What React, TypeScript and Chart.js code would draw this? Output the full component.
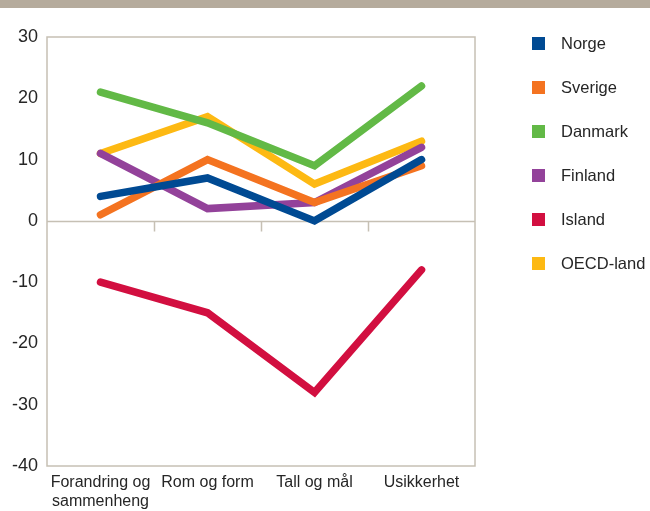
import React, { useEffect, useRef } from 'react';
import { Chart, registerables } from 'chart.js';

Chart.register(...registerables);

// Categories along the x axis (first one wraps onto two lines)
const categories: (string | string[])[] = [
  ['Forandring og', 'sammenheng'],
  'Rom og form',
  'Tall og mål',
  'Usikkerhet',
];

// Change per country and content area
const norge = [4, 7, 0, 10];
const sverige = [1, 10, 3, 9];
const danmark = [21, 16, 9, 22];
const finland = [11, 2, 3, 12];
const island = [-10, -15, -28, -8];
const oecd = [11, 17, 6, 13];

const seriesNames = ['Norge', 'Sverige', 'Danmark', 'Finland', 'Island', 'OECD-land'];
const seriesColors = ['#004a93', '#f47320', '#62b946', '#93429a', '#d20f40', '#fdb913'];
const seriesValues = [norge, sverige, danmark, finland, island, oecd];

const yMin = -40;
const yMax = 30;
const yStep = 10;

const FRAME_COLOR = '#c6c0b4';
const TEXT_COLOR = '#262626';
const FONT = '"Liberation Sans", Arial, sans-serif';

// Frame around the plot, zero line and its short category dividers
const framePlugin = {
  id: 'frame',
  beforeDatasetsDraw(chart: any) {
    const { ctx, chartArea, scales } = chart;
    const x = scales.x;
    const y = scales.y;
    const zeroY = Math.round(y.getPixelForValue(0)) + 0.5;
    ctx.save();
    ctx.strokeStyle = FRAME_COLOR;
    ctx.lineWidth = 1.5;
    ctx.strokeRect(chartArea.left, chartArea.top, chartArea.right - chartArea.left, chartArea.bottom - chartArea.top);
    ctx.beginPath();
    ctx.moveTo(chartArea.left, zeroY);
    ctx.lineTo(chartArea.right, zeroY);
    for (let i = 0; i < categories.length - 1; i++) {
      const bx = Math.round((x.getPixelForValue(i) + x.getPixelForValue(i + 1)) / 2) + 0.5;
      ctx.moveTo(bx, zeroY);
      ctx.lineTo(bx, zeroY + 10);
    }
    ctx.stroke();
    ctx.restore();
  },
};

export default function App() {
  const canvasRef = useRef<HTMLCanvasElement | null>(null);

  useEffect(() => {
    const canvas = canvasRef.current;
    if (!canvas) return;
    const chart = new Chart(canvas, {
      type: 'line',
      data: {
        labels: categories,
        datasets: seriesNames.map((name, i) => ({
          label: name,
          data: seriesValues[i],
          borderColor: seriesColors[i],
          backgroundColor: seriesColors[i],
          borderWidth: 7.5,
          borderCapStyle: 'round' as const,
          borderJoinStyle: 'miter' as const,
          pointRadius: 0,
          pointHoverRadius: 0,
          tension: 0,
          fill: false,
        })),
      },
      options: {
        responsive: false,
        animation: false,
        layout: { padding: { top: 37, right: 175, bottom: 0, left: 0 } },
        plugins: {
          legend: { display: false },
          tooltip: { enabled: false },
        },
        scales: {
          x: {
            type: 'category',
            offset: true,
            grid: { display: false, drawTicks: false },
            border: { display: false },
            ticks: {
              color: TEXT_COLOR,
              font: { family: FONT, size: 16, lineHeight: 1.2 },
              padding: 7,
              maxRotation: 0,
              minRotation: 0,
              autoSkip: false,
            },
            afterFit(scale: any) {
              scale.height = 45;
            },
          },
          y: {
            min: yMin,
            max: yMax,
            grid: { display: false, drawTicks: false },
            border: { display: false },
            ticks: {
              stepSize: yStep,
              color: TEXT_COLOR,
              font: { family: FONT, size: 18 },
              padding: 9,
            },
            afterFit(scale: any) {
              scale.width = 47;
            },
          },
        },
      },
      plugins: [framePlugin],
    });
    return () => chart.destroy();
  }, []);

  return (
    <div style={{ position: 'fixed', left: 0, top: 0, width: 650, height: 511, background: '#ffffff', overflow: 'hidden' }}>
      <div style={{ position: 'absolute', left: 0, top: 0, width: 650, height: 8, background: '#b5ab9c' }} />
      <canvas ref={canvasRef} width={650} height={511} style={{ position: 'absolute', left: 0, top: 0, width: 650, height: 511 }} />
      {seriesNames.map((name, i) => (
        <div key={name} style={{ position: 'absolute', left: 0, top: 43 + i * 44, width: 650, height: 0 }}>
          <div style={{ position: 'absolute', left: 532, top: -6.5, width: 13, height: 13, background: seriesColors[i] }} />
          <div style={{ position: 'absolute', left: 561, top: -10, lineHeight: '20px', fontSize: 16.5, fontFamily: FONT, color: TEXT_COLOR, whiteSpace: 'nowrap' }}>
            {name}
          </div>
        </div>
      ))}
    </div>
  );
}
